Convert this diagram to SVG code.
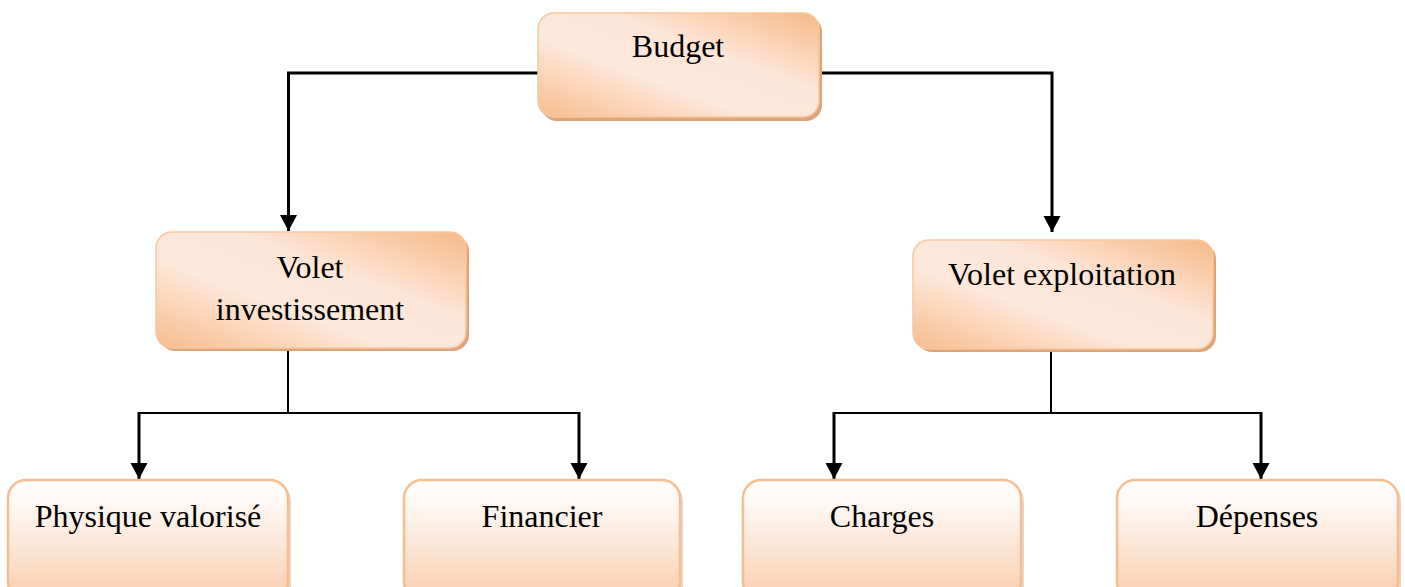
<svg xmlns="http://www.w3.org/2000/svg" width="1405" height="587" viewBox="0 0 1405 587">
  <style>
    .label { font-family: "Liberation Serif", "Times New Roman", serif; font-size: 32px; fill: #000; text-anchor: middle; }
    .upper { fill: url(#diag); stroke: #F8C79E; stroke-width: 1.5; }
    .lower { fill: url(#vert); stroke: #F9BC8C; stroke-width: 2.5; }
    .shadow-up { fill: #DDA47A; }
    .shadow-low { fill: #C9C0B8; opacity: 0.6; }
    .wire { fill: none; stroke: #000; stroke-width: 2; }
    .arrow { fill: none; stroke: #000; stroke-width: 3; marker-end: url(#head); }
  </style>
  <defs>
    <linearGradient id="diag" x1="1" y1="0" x2="0" y2="1">
      <stop offset="0" stop-color="#F6B987"/>
      <stop offset="0.38" stop-color="#FDE6D8"/>
      <stop offset="0.62" stop-color="#FDE8DB"/>
      <stop offset="1" stop-color="#F7BC8D"/>
    </linearGradient>
    <linearGradient id="vert" x1="0" y1="0" x2="0" y2="1">
      <stop offset="0" stop-color="#FFFFFF"/>
      <stop offset="0.3" stop-color="#FEF3EC"/>
      <stop offset="1" stop-color="#F8CDAD"/>
    </linearGradient>
    <marker id="head" markerUnits="userSpaceOnUse" markerWidth="18" markerHeight="18" refX="16" refY="9" orient="auto">
      <path d="M0,0.5 L16,9 L0,17.5 Z" fill="#000"/>
    </marker>
  </defs>

  <g id="connectors">
    <polyline class="arrow" points="538,73 288.5,73 288.5,231"/>
    <polyline class="arrow" points="819,73 1052,73 1052,232"/>
    <line class="wire" x1="288" y1="349" x2="288" y2="413"/>
    <line class="wire" x1="138" y1="413" x2="580" y2="413"/>
    <polyline class="arrow" points="139,412 139,479"/>
    <polyline class="arrow" points="579,412 579,479"/>
    <line class="wire" x1="1051" y1="350" x2="1051" y2="413"/>
    <line class="wire" x1="833" y1="413" x2="1262" y2="413"/>
    <polyline class="arrow" points="834,412 834,479"/>
    <polyline class="arrow" points="1261,412 1261,479"/>
  </g>

  <g id="budget">
    <rect class="shadow-up" x="541" y="16" width="281" height="105" rx="16"/>
    <rect class="upper" x="538" y="13" width="281" height="104" rx="16"/>
    <text class="label" x="678" y="57">Budget</text>
  </g>

  <g id="volet-investissement">
    <rect class="shadow-up" x="159" y="235" width="310" height="116" rx="16"/>
    <rect class="upper" x="156" y="232" width="310" height="116" rx="16"/>
    <text class="label" x="310" y="278">Volet</text>
    <text class="label" x="310" y="320">investissement</text>
  </g>

  <g id="volet-exploitation">
    <rect class="shadow-up" x="916" y="243" width="300" height="109" rx="16"/>
    <rect class="upper" x="913" y="240" width="300" height="109" rx="16"/>
    <text class="label" x="1062" y="285">Volet exploitation</text>
  </g>

  <g id="physique-valorise">
    <rect class="shadow-low" x="11" y="483" width="280" height="120" rx="18"/>
    <rect class="lower" x="8" y="480" width="280" height="120" rx="18"/>
    <text class="label" x="148" y="527">Physique valorisé</text>
  </g>

  <g id="financier">
    <rect class="shadow-low" x="407" y="483" width="276" height="120" rx="18"/>
    <rect class="lower" x="404" y="480" width="276" height="120" rx="18"/>
    <text class="label" x="542" y="527">Financier</text>
  </g>

  <g id="charges">
    <rect class="shadow-low" x="746" y="483" width="278" height="120" rx="18"/>
    <rect class="lower" x="743" y="480" width="278" height="120" rx="18"/>
    <text class="label" x="882" y="527">Charges</text>
  </g>

  <g id="depenses">
    <rect class="shadow-low" x="1120" y="483" width="281" height="120" rx="18"/>
    <rect class="lower" x="1117" y="480" width="281" height="120" rx="18"/>
    <text class="label" x="1257" y="527">Dépenses</text>
  </g>
</svg>
